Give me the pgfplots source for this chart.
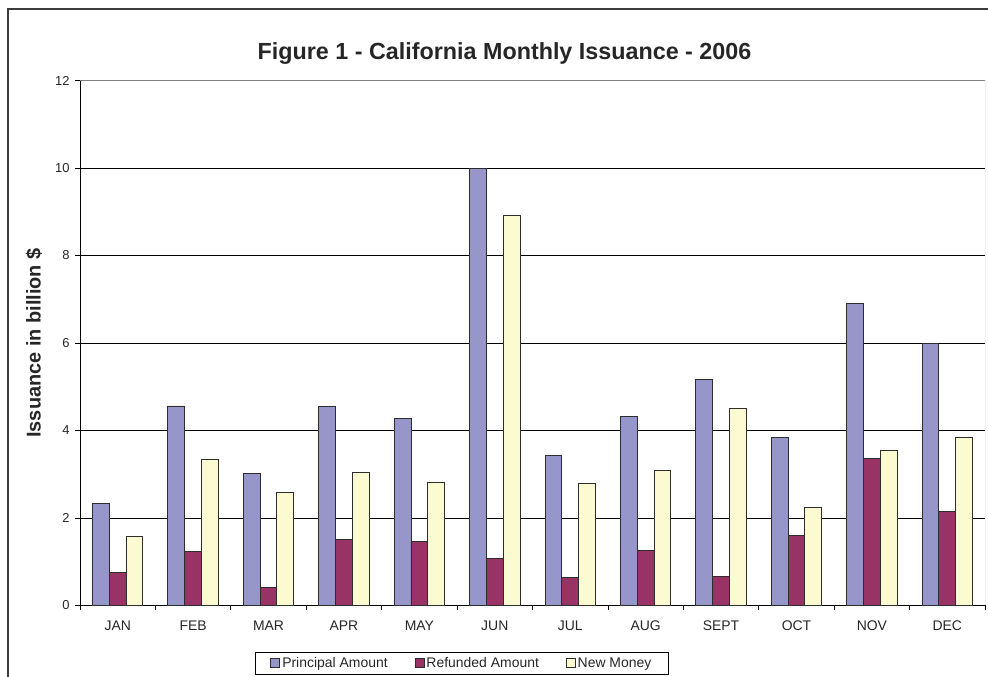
\documentclass[border=0pt]{standalone}
\usepackage{fontspec}
\setmainfont{Liberation Sans}
\usepackage{pgfplots}
\pgfplotsset{compat=1.18}

\definecolor{principal}{RGB}{150,150,202}
\definecolor{refunded}{RGB}{153,51,102}
\definecolor{newmoney}{RGB}{252,250,208}
\definecolor{barline}{RGB}{45,45,45}
\definecolor{framegray}{RGB}{60,60,60}

\begin{document}
\begin{tikzpicture}[x=1bp,y=1bp]
\path[use as bounding box] (-80,-71.5) rectangle (908,605.5);
\begin{scope}
  \clip (-80,-71.5) rectangle (908,605.5);
  \draw[line width=2bp, framegray] (-72,-120) rectangle (1000,596.5);
\end{scope}
\node[font=\bfseries\fontsize{23.4}{26}\selectfont, anchor=base, text=black!85]
  at (424.5,545.5) {Figure 1 - California Monthly Issuance - 2006};
\begin{axis}[
  at={(0,0)}, anchor=south west,
  scale only axis, width=905bp, height=525bp,
  ybar=0pt, bar width=16.8bp,
  xmin=-0.5, xmax=11.5, ymin=0, ymax=12,
  xtick={0,...,11},
  xticklabels={JAN,FEB,MAR,APR,MAY,JUN,JUL,AUG,SEPT,OCT,NOV,DEC},
  minor xtick={-0.5,0.5,...,11.5},
  ytick={0,2,...,12},
  axis x line*=bottom, axis y line*=left,
  axis line style={black, line width=0.9bp},
  tick align=outside,
  major x tick style={draw=none},
  minor x tick style={black, line width=0.8bp},
  major y tick style={black, line width=0.8bp},
  major tick length=5bp, minor tick length=5bp,
  ymajorgrids, major grid style={black, line width=0.7bp},
  /pgf/number format/assume math mode=true,
  xticklabel style={font=\fontsize{14}{16}\selectfont, text=black!85, yshift=-7bp},
  yticklabel style={font=\fontsize{13}{15}\selectfont, text=black!85, xshift=-2bp},
  ylabel={Issuance in billion \$},
  every axis y label/.style={at={(rel axis cs:0,0.5)}, xshift=-46bp, rotate=90,
    anchor=center, font=\bfseries\fontsize{20}{22}\selectfont, text=black!85},
  legend columns=3,
  legend style={at={(0.422,-0.0886)}, anchor=north, draw=black, line width=0.8bp,
    font=\fontsize{14}{16}\selectfont, text=black!85,
    inner xsep=15bp, inner ysep=3bp,
    /tikz/every even column/.append style={column sep=25bp}},
  legend cell align=left,
  legend image code/.code={\draw[#1, line width=0.8bp] (0bp,-4.5bp) rectangle (9bp,4.5bp);},
]
\addplot[fill=principal, draw=barline, line width=0.9bp] coordinates {
  (0,2.34) (1,4.56) (2,3.02) (3,4.55) (4,4.28) (5,9.99)
  (6,3.42) (7,4.33) (8,5.16) (9,3.84) (10,6.90) (11,5.98)};
\addplot[fill=refunded, draw=barline, line width=0.9bp] coordinates {
  (0,0.76) (1,1.23) (2,0.42) (3,1.50) (4,1.46) (5,1.08)
  (6,0.64) (7,1.25) (8,0.66) (9,1.59) (10,3.37) (11,2.15)};
\addplot[fill=newmoney, draw=barline, line width=0.9bp] coordinates {
  (0,1.58) (1,3.34) (2,2.59) (3,3.05) (4,2.81) (5,8.92)
  (6,2.78) (7,3.08) (8,4.50) (9,2.24) (10,3.54) (11,3.83)};
\legend{Principal Amount, Refunded Amount, New Money}
\draw[gray, line width=1bp] (rel axis cs:0,1) -- (rel axis cs:1,1) -- (rel axis cs:1,0);
\end{axis}
\end{tikzpicture}
\end{document}
